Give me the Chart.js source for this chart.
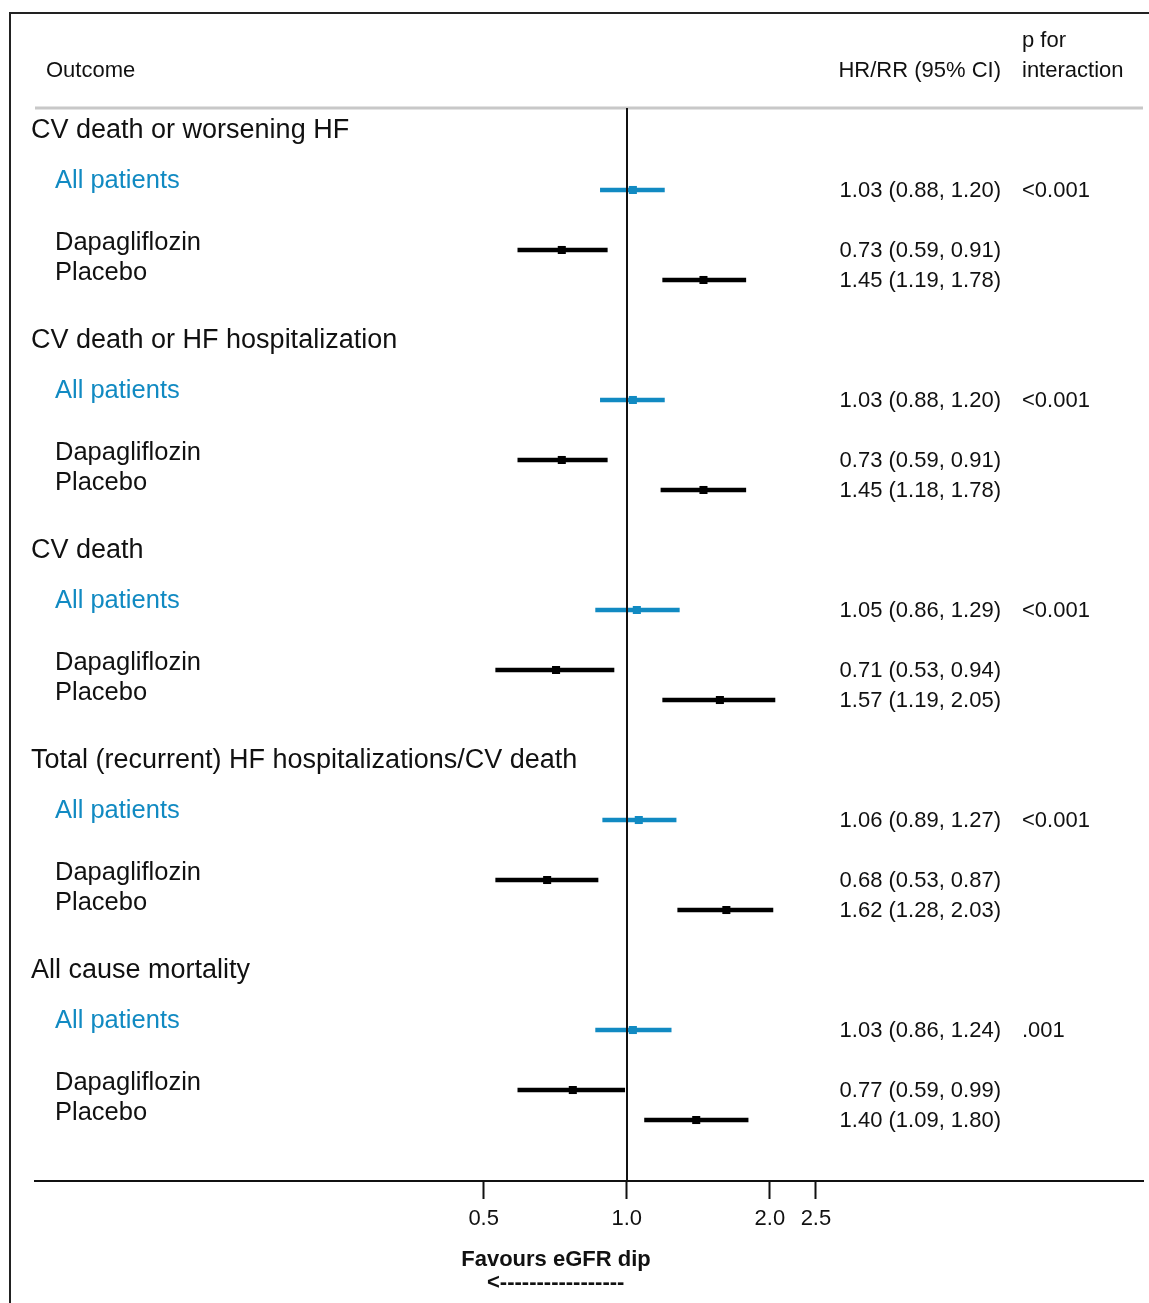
<!DOCTYPE html>
<html>
<head>
<meta charset="utf-8">
<style>
  html, body { margin: 0; padding: 0; background: #fff; }
  #wrap { width: 1149px; height: 1303px; position: relative; }
</style>
<script src="https://cdn.jsdelivr.net/npm/chart.js@4/dist/chart.umd.min.js"></script>
</head>
<body>
<div id="wrap"><canvas id="forest" width="1149" height="1303"></canvas></div>
<script>
// outcomes (one block of rows each)
const outcomes = [
  'CV death or worsening HF',
  'CV death or HF hospitalization',
  'CV death',
  'Total (recurrent) HF hospitalizations/CV death',
  'All cause mortality',
];

// all patients
const allHR = [1.03, 1.03, 1.05, 1.06, 1.03];
const allLo = [0.88, 0.88, 0.86, 0.89, 0.86];
const allHi = [1.20, 1.20, 1.29, 1.27, 1.24];

// dapagliflozin arm
const dapaHR = [0.73, 0.73, 0.71, 0.68, 0.77];
const dapaLo = [0.59, 0.59, 0.53, 0.53, 0.59];
const dapaHi = [0.91, 0.91, 0.94, 0.87, 0.99];

// placebo arm
const placHR = [1.45, 1.45, 1.57, 1.62, 1.40];
const placLo = [1.19, 1.18, 1.19, 1.28, 1.09];
const placHi = [1.78, 1.78, 2.05, 2.03, 1.80];

const pInteraction = ['<0.001', '<0.001', '<0.001', '<0.001', '.001'];

const tickValues = [0.5, 1, 2, 2.5];
const tickLabels = ['0.5', '1.0', '2.0', '2.5'];

// row index inside a block of 7 rows
const ROW_ALL = 0, ROW_DAPA = 2, ROW_PLAC = 3, BLOCK = 7;

const BLUE = '#118ac2';
const FONT = "'Liberation Sans', Arial, Helvetica, sans-serif";

const fmt = (v) => v.toFixed(2);
const ciText = (hr, lo, hi) => `${fmt(hr)} (${fmt(lo)}, ${fmt(hi)})`;

const ciData = (lo, hi, row) => outcomes.map((o, i) => ({ x: [lo[i], hi[i]], y: i * BLOCK + row }));
const ptData = (hr, row) => outcomes.map((o, i) => ({ x: hr[i], y: i * BLOCK + row }));

const barDs = (label, data, color) => ({
  type: 'bar', label, data, indexAxis: 'y',
  backgroundColor: color, borderWidth: 0,
  grouped: false, maxBarThickness: 4, barThickness: 4,
  xAxisID: 'x', yAxisID: 'y', order: 2,
});
const ptDs = (label, data, color) => ({
  type: 'scatter', label, data,
  pointStyle: 'rect', pointRadius: 5.7, pointBackgroundColor: color,
  pointBorderWidth: 0, showLine: false,
  xAxisID: 'x', yAxisID: 'y', order: 1,
});

const textLayer = {
  id: 'textLayer',
  beforeDraw(chart) {
    const ctx = chart.ctx;
    const area = chart.chartArea;
    ctx.save();
    ctx.strokeStyle = '#222';
    ctx.lineWidth = 2;
    ctx.beginPath();
    ctx.moveTo(10, 1303);
    ctx.lineTo(10, 13);
    ctx.lineTo(1149, 13);
    ctx.stroke();
    // header rule
    ctx.strokeStyle = '#c8c8c8';
    ctx.lineWidth = 3;
    ctx.beginPath();
    ctx.moveTo(area.left, area.top);
    ctx.lineTo(area.right, area.top);
    ctx.stroke();
    ctx.restore();
  },
  afterDatasetsDraw(chart) {
    const ctx = chart.ctx;
    const area = chart.chartArea;
    const x = chart.scales.x;
    const y = chart.scales.y;
    ctx.save();
    // line of no effect
    const x1 = Math.round(x.getPixelForValue(1));
    ctx.strokeStyle = '#111';
    ctx.lineWidth = 2;
    ctx.beginPath();
    ctx.moveTo(x1, area.top);
    ctx.lineTo(x1, area.bottom);
    ctx.stroke();

    ctx.fillStyle = '#111';
    ctx.textBaseline = 'middle';
    ctx.font = `22px ${FONT}`;
    ctx.textAlign = 'left';
    ctx.fillText('Outcome', 46, 71);
    ctx.fillText('p for', 1022, 41);
    ctx.fillText('interaction', 1022, 71);
    ctx.textAlign = 'right';
    ctx.fillText('HR/RR (95% CI)', 1001, 71);

    outcomes.forEach((name, i) => {
      const yAll = y.getPixelForValue(i * BLOCK + ROW_ALL);
      const yDapa = y.getPixelForValue(i * BLOCK + ROW_DAPA);
      const yPlac = y.getPixelForValue(i * BLOCK + ROW_PLAC);
      const yHead = y.getPixelForValue(i * BLOCK - 2);

      ctx.textAlign = 'left';
      ctx.fillStyle = '#111';
      ctx.font = `27px ${FONT}`;
      ctx.fillText(name, 31, yHead + 1);

      ctx.font = `25.5px ${FONT}`;
      ctx.fillStyle = BLUE;
      ctx.fillText('All patients', 55, yAll - 9);
      ctx.fillStyle = '#111';
      ctx.fillText('Dapagliflozin', 55, yDapa - 7);
      ctx.fillText('Placebo', 55, yPlac - 7);

      ctx.font = `22px ${FONT}`;
      ctx.textAlign = 'right';
      ctx.fillText(ciText(allHR[i], allLo[i], allHi[i]), 1001, yAll + 1);
      ctx.fillText(ciText(dapaHR[i], dapaLo[i], dapaHi[i]), 1001, yDapa + 1);
      ctx.fillText(ciText(placHR[i], placLo[i], placHi[i]), 1001, yPlac + 1);
      ctx.textAlign = 'left';
      ctx.fillText(pInteraction[i], 1022, yAll + 1);
    });

    // favours caption under the axis
    ctx.textAlign = 'center';
    ctx.font = `bold 22px ${FONT}`;
    ctx.fillText('Favours eGFR dip', 556, 1260);
    ctx.textAlign = 'left';
    ctx.fillText('<' + '-'.repeat(17), 487, 1283);
    ctx.restore();
  },
};

new Chart(document.getElementById('forest'), {
  type: 'bar',
  data: {
    datasets: [
      barDs('All patients CI', ciData(allLo, allHi, ROW_ALL), BLUE),
      barDs('Dapagliflozin CI', ciData(dapaLo, dapaHi, ROW_DAPA), '#000'),
      barDs('Placebo CI', ciData(placLo, placHi, ROW_PLAC), '#000'),
      ptDs('All patients', ptData(allHR, ROW_ALL), BLUE),
      ptDs('Dapagliflozin', ptData(dapaHR, ROW_DAPA), '#000'),
      ptDs('Placebo', ptData(placHR, ROW_PLAC), '#000'),
    ],
  },
  options: {
    responsive: false,
    animation: false,
    layout: { padding: { left: 35, right: 6, top: 108, bottom: 0 } },
    plugins: { legend: { display: false }, tooltip: { enabled: false } },
    scales: {
      x: {
        type: 'logarithmic',
        offset: false,
        min: 0.0569,
        max: 12.19,
        afterBuildTicks: (scale) => { scale.ticks = tickValues.map((v) => ({ value: v })); },
        afterFit: (scale) => { scale.height = 122; },
        ticks: {
          autoSkip: false,
          maxRotation: 0,
          padding: 7,
          color: '#111',
          font: { family: FONT, size: 22 },
          callback: (v) => tickLabels[tickValues.indexOf(v)] ?? '',
        },
        grid: { offset: false, drawOnChartArea: false, tickLength: 18, tickWidth: 2, tickColor: '#111' },
        border: { display: true, color: '#111', width: 2 },
      },
      y: {
        type: 'linear',
        display: false,
        offset: false,
        grid: { offset: false },
        reverse: true,
        min: -2.733,
        max: 33.033,
      },
    },
  },
  plugins: [textLayer],
});
</script>
</body>
</html>
